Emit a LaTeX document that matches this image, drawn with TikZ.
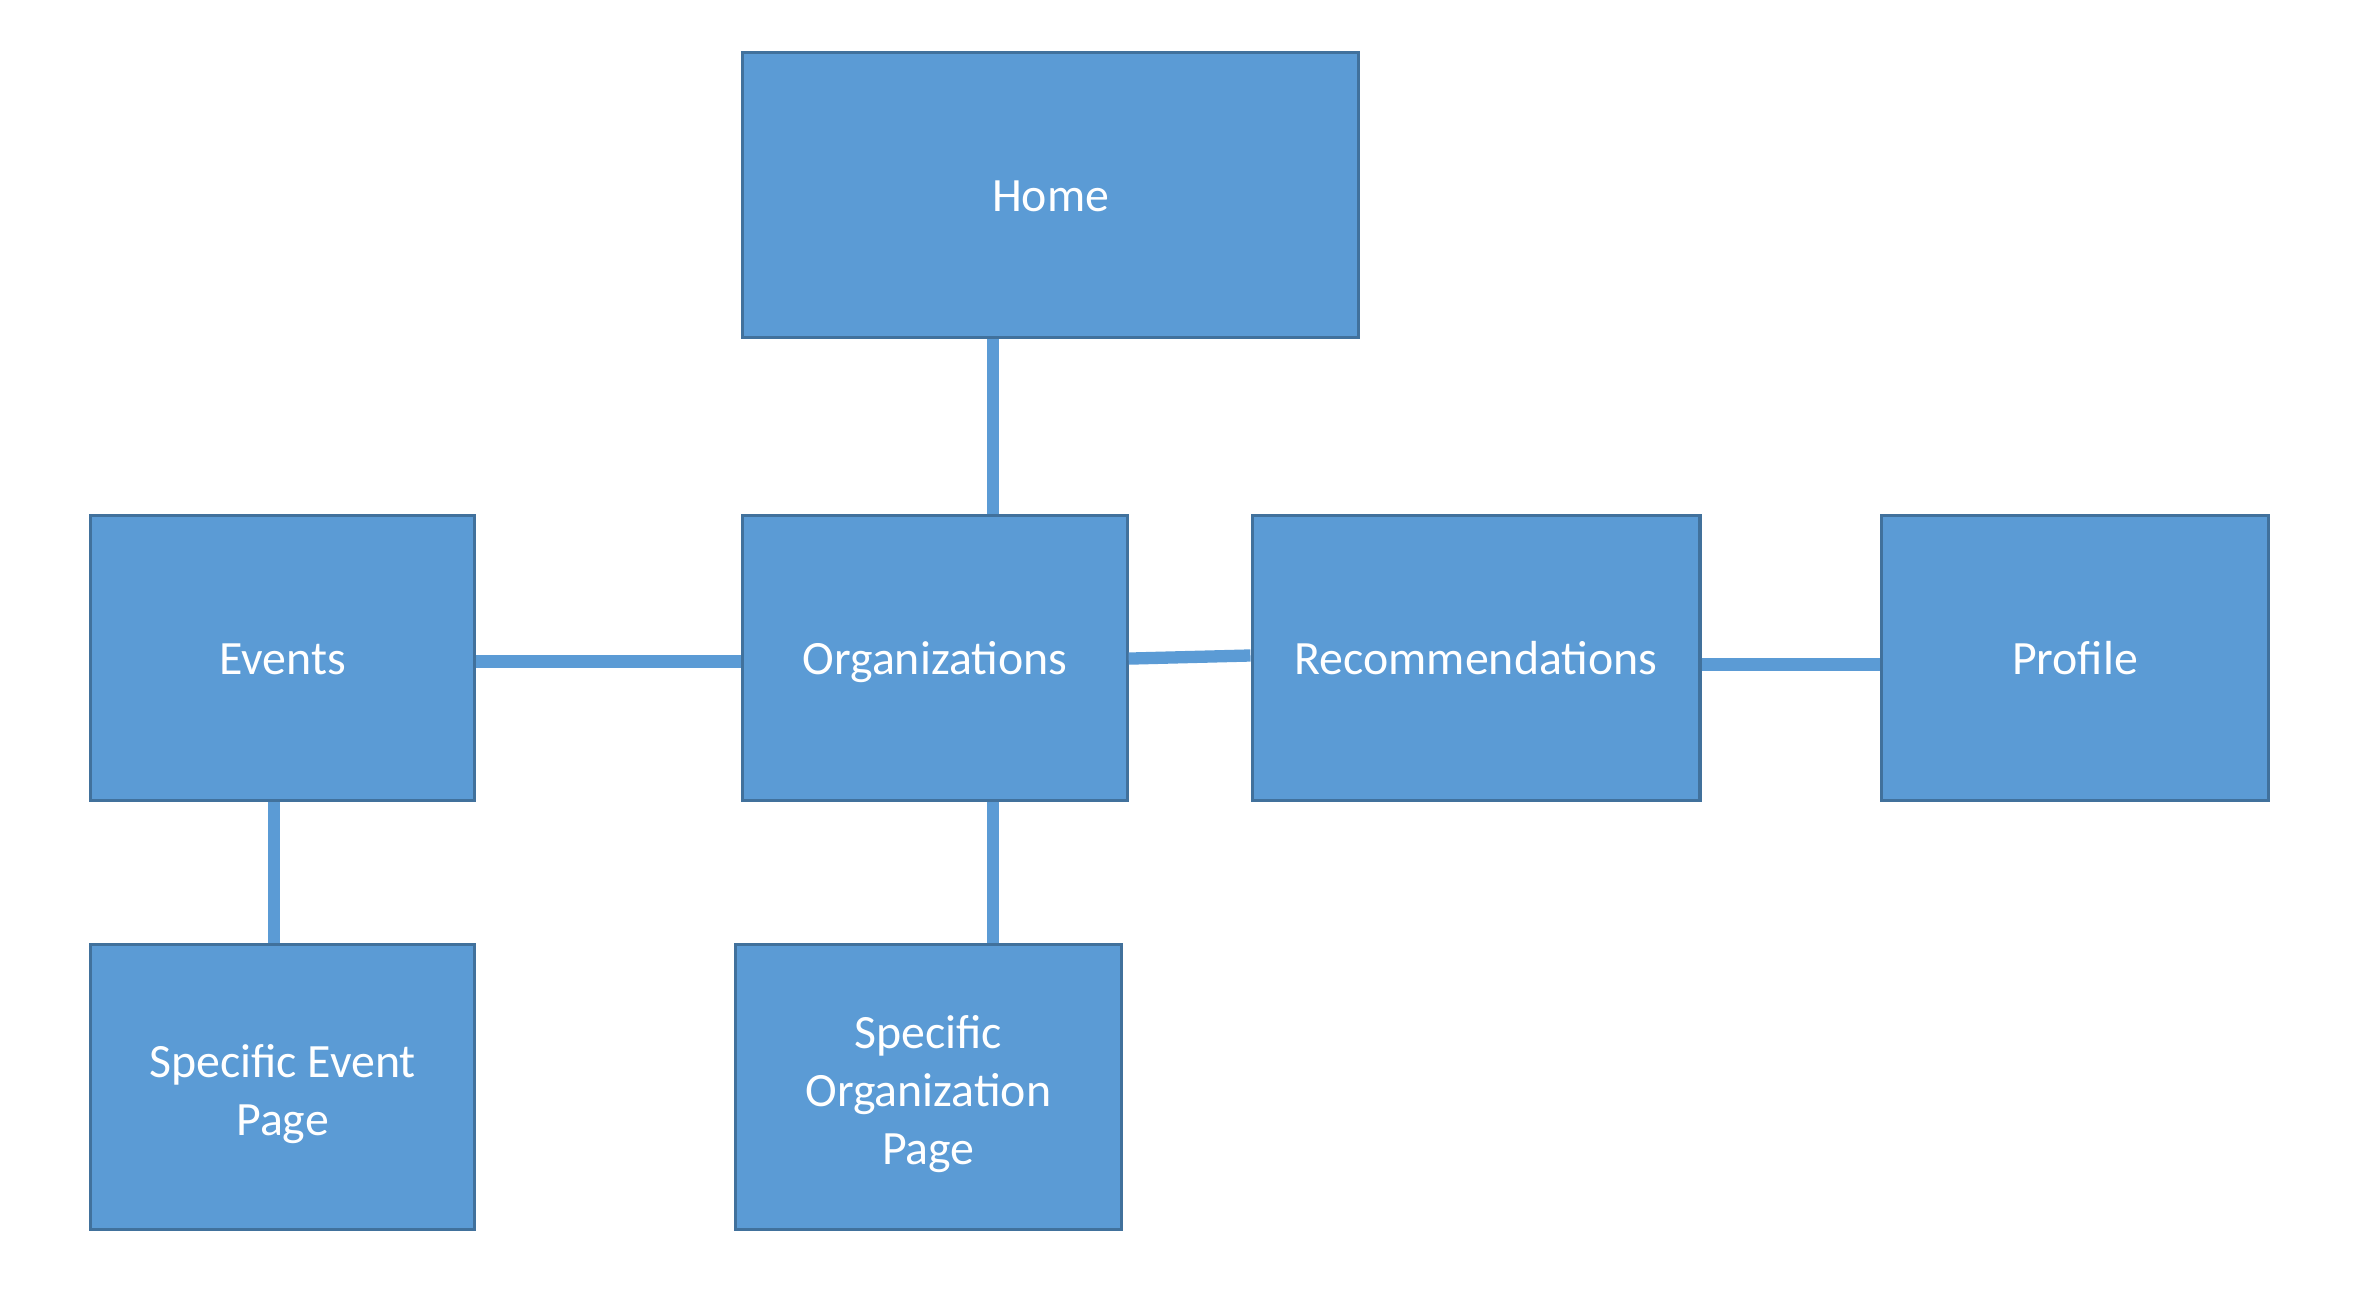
\documentclass[tikz,border=0pt]{standalone}
\usepackage{fontspec}
\setmainfont{Carlito}
\definecolor{boxfill}{HTML}{5B9BD5}
\definecolor{boxline}{HTML}{41719C}
\newcommand{\lowered}[1]{\raisebox{0pt}[\dimexpr\height+4.4pt\relax][\depth]{\begin{tabular}{@{}c@{}}#1\end{tabular}}}
\begin{document}
\begin{tikzpicture}[x=0.01cm,y=-0.01cm,
  pagebox/.style={draw=boxline,line width=0.9pt,fill=boxfill,text=white,
    minimum height=2.85cm,inner sep=0pt,align=center,
    font=\fontsize{13.6}{16.4}\selectfont},
  oneline/.style={text height=9.6pt,text depth=0pt},
  link/.style={draw=boxfill,line width=3.5pt}]
\useasboundingbox (0,0) rectangle (2360,1298);
\node[pagebox,oneline,minimum width=6.15cm] (home) at (1050.5,195) {Home};
\node[pagebox,oneline,minimum width=3.84cm] (events) at (282.6,657.8) {Events};
\node[pagebox,oneline,minimum width=3.84cm] (org) at (935,657.8) {Organizations};
\node[pagebox,oneline,minimum width=4.476cm] (rec) at (1476,657.8) {Recommendations};
\node[pagebox,oneline,minimum width=3.86cm] (profile) at (2075,657.8) {Profile};
\node[pagebox,minimum width=3.84cm] (sep) at (282.6,1087.3) {\lowered{Specific Event\\Page}};
\node[pagebox,minimum width=3.86cm] (sop) at (928.3,1087.3) {\lowered{Specific\\Organization\\Page}};
\coordinate (cx1) at (993,0);
\coordinate (cx2) at (274.3,0);
\coordinate (cy1) at (0,661.6);
\coordinate (cy2a) at (0,658.6);
\coordinate (cy2b) at (0,655.5);
\coordinate (cy3) at (0,664.6);
\draw[link] (home.south -| cx1) -- (org.north -| cx1);
\draw[link] (events.east |- cy1) -- (org.west |- cy1);
\draw[link] (org.east |- cy2a) -- (rec.west |- cy2b);
\draw[link] (rec.east |- cy3) -- (profile.west |- cy3);
\draw[link] (events.south -| cx2) -- (sep.north -| cx2);
\draw[link] (org.south -| cx1) -- (sop.north -| cx1);
\end{tikzpicture}
\end{document}
